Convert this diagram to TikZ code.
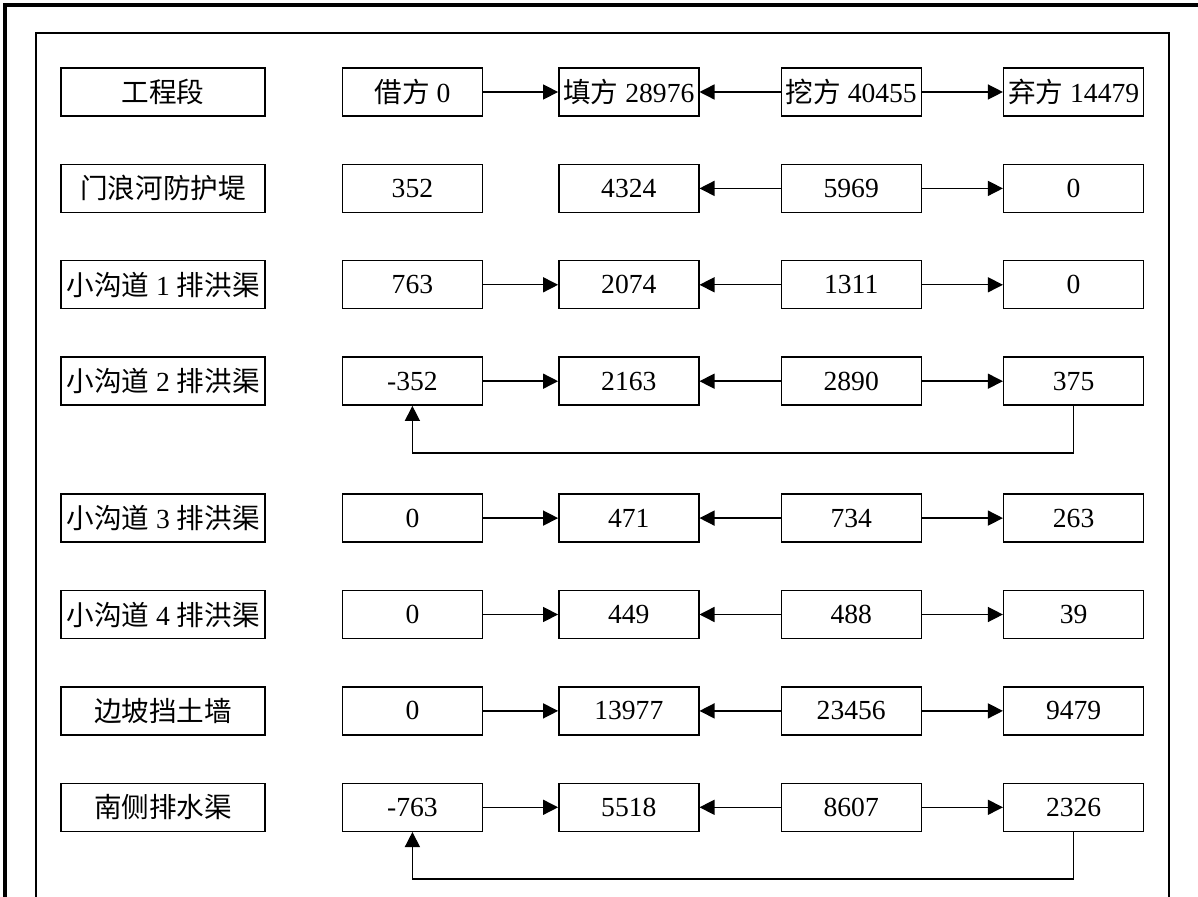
\documentclass[tikz,border=0pt]{standalone}
\usepackage{fontspec}
\setmainfont{Liberation Serif}
\newfontfamily\cjk{Noto Sans CJK SC}
\usepackage{tikz}
\usetikzlibrary{arrows.meta, positioning}
\newcommand{\zh}[1]{{\cjk #1}}

\begin{document}
\begin{tikzpicture}[
  node distance=23.5pt and 38pt,
  namebox/.style={draw, line width=0.7pt, align=center, minimum width=102pt, minimum height=24pt, inner sep=1pt, font=\fontsize{13.8pt}{16pt}\selectfont},
  valbox/.style={draw, line width=0.7pt, align=center, minimum width=70pt, minimum height=24pt, inner sep=1pt, font=\fontsize{13.8pt}{16pt}\selectfont},
  arrow/.style={-{Triangle[length=7.5pt, width=7.5pt]}, line width=0.7pt}
]
\useasboundingbox (0,0) rectangle (599pt,-448.5pt);
% frames
\draw[line width=2pt] (2.5pt,-448.5pt) -- (2.5pt,-2.75pt) -- (599pt,-2.75pt);
\draw[line width=0.6pt] (18pt,-448.5pt) -- (18pt,-16.5pt) -- (584.5pt,-16.5pt) -- (584.5pt,-448.5pt);

% row 1
\node[namebox] (name1) at (81.5pt,-46pt) {\zh{工程段}};
\node[valbox, right=of name1] (jie1) {\zh{借方} 0};
\node[valbox, right=37.5pt of jie1] (tian1) {\zh{填方} 28976};
\node[valbox, right=40.5pt of tian1] (wa1) {\zh{挖方} 40455};
\node[valbox, right=40.5pt of wa1] (qi1) {\zh{弃方} 14479};
% row 2
\node[namebox, below=of name1] (name2) {\zh{门浪河防护堤}};
\node[valbox, right=of name2] (jie2) {352};
\node[valbox, right=37.5pt of jie2] (tian2) {4324};
\node[valbox, right=40.5pt of tian2] (wa2) {5969};
\node[valbox, right=40.5pt of wa2] (qi2) {0};
% row 3
\node[namebox, below=of name2] (name3) {\zh{小沟道} 1 \zh{排洪渠}};
\node[valbox, right=of name3] (jie3) {763};
\node[valbox, right=37.5pt of jie3] (tian3) {2074};
\node[valbox, right=40.5pt of tian3] (wa3) {1311};
\node[valbox, right=40.5pt of wa3] (qi3) {0};
% row 4
\node[namebox, below=of name3] (name4) {\zh{小沟道} 2 \zh{排洪渠}};
\node[valbox, right=of name4] (jie4) {-352};
\node[valbox, right=37.5pt of jie4] (tian4) {2163};
\node[valbox, right=40.5pt of tian4] (wa4) {2890};
\node[valbox, right=40.5pt of wa4] (qi4) {375};
% row 5
\node[namebox, below=43.75pt of name4] (name5) {\zh{小沟道} 3 \zh{排洪渠}};
\node[valbox, right=of name5] (jie5) {0};
\node[valbox, right=37.5pt of jie5] (tian5) {471};
\node[valbox, right=40.5pt of tian5] (wa5) {734};
\node[valbox, right=40.5pt of wa5] (qi5) {263};
% row 6
\node[namebox, below=of name5] (name6) {\zh{小沟道} 4 \zh{排洪渠}};
\node[valbox, right=of name6] (jie6) {0};
\node[valbox, right=37.5pt of jie6] (tian6) {449};
\node[valbox, right=40.5pt of tian6] (wa6) {488};
\node[valbox, right=40.5pt of wa6] (qi6) {39};
% row 7
\node[namebox, below=of name6] (name7) {\zh{边坡挡土墙}};
\node[valbox, right=of name7] (jie7) {0};
\node[valbox, right=37.5pt of jie7] (tian7) {13977};
\node[valbox, right=40.5pt of tian7] (wa7) {23456};
\node[valbox, right=40.5pt of wa7] (qi7) {9479};
% row 8
\node[namebox, below=of name7] (name8) {\zh{南侧排水渠}};
\node[valbox, right=of name8] (jie8) {-763};
\node[valbox, right=37.5pt of jie8] (tian8) {5518};
\node[valbox, right=40.5pt of tian8] (wa8) {8607};
\node[valbox, right=40.5pt of wa8] (qi8) {2326};

% flows
\draw[arrow] (jie1) -- (tian1);
\draw[arrow] (wa1) -- (tian1);
\draw[arrow] (wa1) -- (qi1);
\draw[arrow] (wa2) -- (tian2);
\draw[arrow] (wa2) -- (qi2);
\draw[arrow] (jie3) -- (tian3);
\draw[arrow] (wa3) -- (tian3);
\draw[arrow] (wa3) -- (qi3);
\draw[arrow] (jie4) -- (tian4);
\draw[arrow] (wa4) -- (tian4);
\draw[arrow] (wa4) -- (qi4);
\draw[arrow] (qi4.south) -- ++(0,-23.5pt) -| (jie4.south);
\draw[arrow] (jie5) -- (tian5);
\draw[arrow] (wa5) -- (tian5);
\draw[arrow] (wa5) -- (qi5);
\draw[arrow] (jie6) -- (tian6);
\draw[arrow] (wa6) -- (tian6);
\draw[arrow] (wa6) -- (qi6);
\draw[arrow] (jie7) -- (tian7);
\draw[arrow] (wa7) -- (tian7);
\draw[arrow] (wa7) -- (qi7);
\draw[arrow] (jie8) -- (tian8);
\draw[arrow] (wa8) -- (tian8);
\draw[arrow] (wa8) -- (qi8);
\draw[arrow] (qi8.south) -- ++(0,-23.5pt) -| (jie8.south);
\end{tikzpicture}
\end{document}
